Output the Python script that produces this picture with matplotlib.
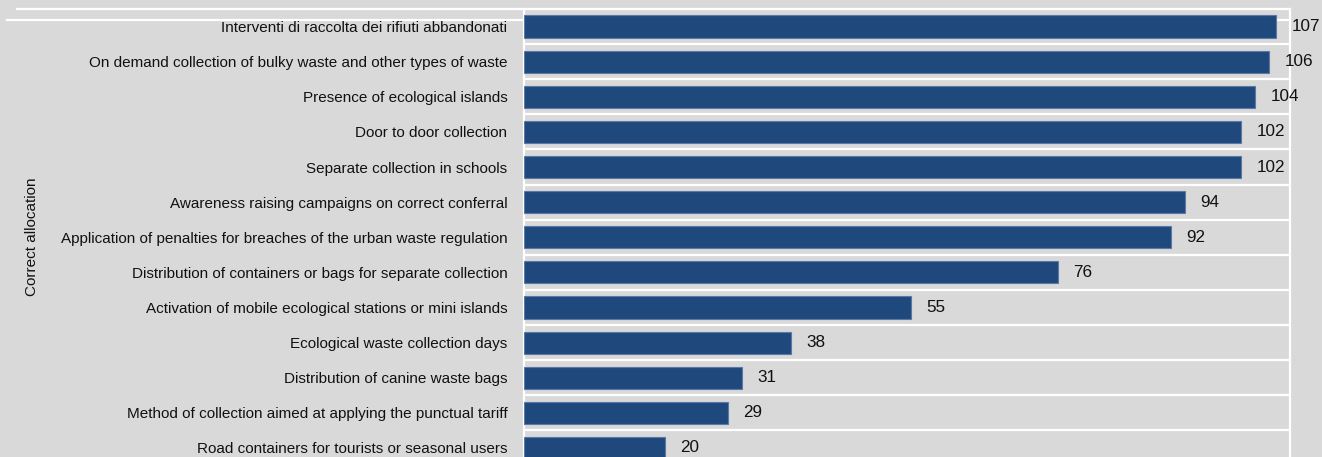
import matplotlib.pyplot as plt
import matplotlib.transforms as mtransforms
import numpy as np

# == dados ==
categorias = [
    "Interventi di raccolta dei rifiuti abbandonati",
    "On demand collection of bulky waste and other types of waste",
    "Presence of ecological islands",
    "Door to door collection",
    "Separate collection in schools",
    "Awareness raising campaigns on correct conferral",
    "Application of penalties for breaches of the urban waste regulation",
    "Distribution of containers or bags for separate collection",
    "Activation of mobile ecological stations or mini islands",
    "Ecological waste collection days",
    "Distribution of canine waste bags",
    "Method of collection aimed at applying the punctual tariff",
    "Road containers for tourists or seasonal users",
]
valores = [107, 106, 104, 102, 102, 94, 92, 76, 55, 38, 31, 29, 20]
rotulo_eixo = "Correct allocation"

fundo = "#d9d9d9"
azul = "#1f497d"

plt.rcParams['font.family'] = ['Liberation Sans', 'DejaVu Sans']

fig = plt.figure(figsize=(13.22, 4.57), dpi=100, facecolor=fundo)
ax = fig.add_axes([524 / 1322, -8.5 / 457, 766 / 1322, 456.5 / 457])
ax.set_facecolor(fundo)

y = np.arange(len(categorias))
ax.barh(y, valores, height=0.63, color=azul, edgecolor="#5a7aa5", linewidth=0.8, zorder=3)

ax.set_ylim(len(categorias) - 0.5, -0.5)
ax.set_xlim(0, 109)

# linhas separadoras entre as categorias
for i in range(len(categorias) - 1):
    ax.axhline(i + 0.5, color="white", linewidth=1.6, zorder=1)

trans = mtransforms.blended_transform_factory(ax.transAxes, ax.transData)
ax.plot([-0.662, 1], [-0.5, -0.5], color="white", linewidth=1.6, transform=trans, clip_on=False, zorder=1)
ax.plot([-0.675, 1], [-0.187, -0.187], color="white", linewidth=1.6, transform=trans, clip_on=False, zorder=1)

for s in ["left", "right"]:
    ax.spines[s].set_color("white")
    ax.spines[s].set_linewidth(1.6)
for s in ["top", "bottom"]:
    ax.spines[s].set_visible(False)

# rótulos dos valores
for yi, v in zip(y, valores):
    ax.text(v + 2.2, yi, str(v), va="center", ha="left", fontsize=12.3, color="#111111", zorder=4)

ax.set_yticks(y)
ax.set_yticklabels(categorias, fontsize=11, color="#111111")
ax.tick_params(axis="y", length=0, pad=12)
ax.set_xticks([])

fig.text(32 / 1322, 1 - 237 / 457, rotulo_eixo, rotation=90, va="center", ha="center",
         fontsize=11, color="#111111")

fig.savefig("out.png", dpi=100, facecolor=fundo)
